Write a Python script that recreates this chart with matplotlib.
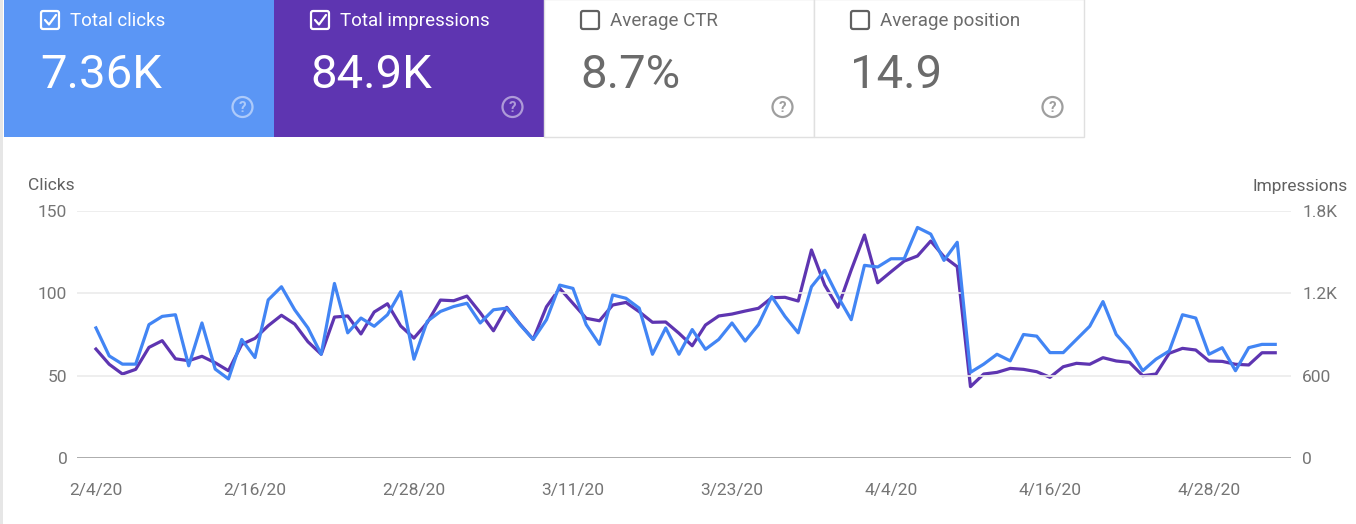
import pandas as pd
import numpy as np
import matplotlib
matplotlib.use("Agg")
import matplotlib.pyplot as plt
import matplotlib.dates as mdates
from matplotlib.patches import Rectangle, FancyBboxPatch, Circle

plt.rcParams['font.family'] = ['Roboto', 'DejaVu Sans']

# daily values, 2/4/20 .. 5/3/20
dates = pd.date_range("2020-02-04", periods=90, freq="D")
clicks = [79, 62, 57, 57, 81, 86, 87, 56, 82, 54,
          48, 72, 61, 96, 104, 90, 79, 63, 106, 76,
          85, 80, 87, 101, 60, 83, 89, 92, 94, 82,
          90, 91, 81, 72, 84, 105, 103, 81, 69, 99,
          97, 91, 63, 79, 63, 78, 66, 72, 82, 71,
          81, 98, 86, 76, 104, 114, 98, 84, 117, 116,
          121, 121, 140, 136, 120, 131, 52, 57, 63, 59,
          75, 74, 64, 64, 72, 80, 95, 75, 66, 53,
          60, 65, 87, 85, 63, 67, 53, 67, 69, 69]
impressions = [794, 683, 612, 646, 806, 855, 723, 709, 741, 694,
               636, 828, 872, 964, 1040, 976, 847, 756, 1027, 1035,
               904, 1064, 1124, 962, 874, 986, 1151, 1146, 1180, 1059,
               927, 1098, 976, 865, 1102, 1236, 1127, 1018, 1000, 1115,
               1134, 1066, 989, 991, 909, 818, 969, 1035, 1049, 1071,
               1091, 1168, 1171, 1144, 1516, 1260, 1098, 1370, 1625, 1277,
               1357, 1435, 1472, 1581, 1467, 1394, 520, 612, 624, 653,
               646, 629, 588, 665, 690, 683, 731, 707, 697, 600,
               612, 763, 799, 787, 707, 704, 683, 678, 767, 767]

card_titles = ["Total clicks", "Total impressions", "Average CTR", "Average position"]
card_values = ["7.36K", "84.9K", "8.7%", "14.9"]
card_checked = [True, True, False, False]

clicks_ticks = [0, 50, 100, 150]
impr_ticks = [0, 600, 1200, 1800]
impr_labels = ["0", "600", "1.2K", "1.8K"]

BLUE_CARD = "#5b96f5"
PURPLE = "#5e35b1"
BLUE_LINE = "#4285f4"
GREY_TXT = "#6b6b6b"
TICK_TXT = "#757575"

W, H = 1356, 524
fig = plt.figure(figsize=(W / 100, H / 100), dpi=100)
fig.patch.set_facecolor("white")

# background layer in pixel coords for the cards
bg = fig.add_axes([0, 0, 1, 1])
bg.set_xlim(0, W)
bg.set_ylim(H, 0)
bg.axis("off")
bg.add_patch(Rectangle((0, 0), 3, H, color="#e6e6e6", lw=0))

card_w = 270
card_fill = [BLUE_CARD, PURPLE, "white", "white"]
for i in range(4):
    x0 = 4 + i * card_w
    fill = card_fill[i]
    colored = card_checked[i]
    if colored:
        bg.add_patch(Rectangle((x0, 0), card_w, 137, facecolor=fill, lw=0))
    else:
        bg.add_patch(Rectangle((x0, -1), card_w, 138, facecolor="white",
                               edgecolor="#e0e0e0", lw=1))
    fg = "white" if colored else GREY_TXT
    # checkbox
    cb_col = "white" if colored else "#616161"
    bg.add_patch(FancyBboxPatch((x0 + 37, 11), 18, 18,
                                boxstyle="round,pad=0,rounding_size=2",
                                facecolor="none", edgecolor=cb_col, lw=1.6))
    if colored:
        bg.plot([x0 + 41, x0 + 45, x0 + 52], [20, 24.5, 15], color="white",
                lw=1.6, solid_capstyle="round")
    bg.text(x0 + 66, 21.5, card_titles[i], color=fg, fontsize=13.5,
            va="center", ha="left")
    bg.text(x0 + 36, 75.5, card_values[i], color=fg, fontsize=34,
            va="center", ha="left")
    # help icon
    q_col = "white" if colored else "#9e9e9e"
    q_alpha = 0.5 if colored else 1.0
    bg.add_patch(Circle((x0 + 238.5, 107), 10, facecolor="none",
                        edgecolor=q_col, lw=1.6, alpha=q_alpha))
    bg.text(x0 + 238.5, 107.5, "?", color=q_col, alpha=q_alpha, fontsize=11,
            ha="center", va="center", fontweight="bold")

# chart
ax = fig.add_axes([77 / W, 66 / H, 1214 / W, 247 / H])
ax.patch.set_alpha(0)
ax2 = ax.twinx()

ax2.plot(dates, impressions, color=PURPLE, lw=2.3, zorder=2)
ax.plot(dates, clicks, color=BLUE_LINE, lw=2.3, zorder=3)
ax.set_zorder(ax2.get_zorder() + 1)

ax.set_ylim(0, 150)
ax2.set_ylim(0, 1800)
ax.set_yticks(clicks_ticks)
ax2.set_yticks(impr_ticks)
ax2.set_yticklabels(impr_labels)

day = pd.Timedelta(days=1)
ax.set_xlim(dates[0] - 1.43 * day, dates[0] + 90.19 * day)
ax.set_xticks(dates[::12])
ax.set_xticklabels([f"{d.month}/{d.day}/{d.year % 100}" for d in dates[::12]])

for a in (ax, ax2):
    for s in a.spines.values():
        s.set_visible(False)
    a.tick_params(length=0, colors=TICK_TXT, labelsize=12.5)
ax.tick_params(axis="y", pad=7)
ax2.tick_params(axis="y", pad=8)
ax.tick_params(axis="x", pad=18)

for v in clicks_ticks[1:]:
    ax.axhline(v, color="#ebebeb", lw=1.2, zorder=0)
ax.axhline(0, color="#9e9e9e", lw=1.2, zorder=1)

fig.text(28 / W, 1 - 185 / H, "Clicks", color="#616161", fontsize=12.5,
         ha="left", va="center")
fig.text(1348 / W, 1 - 186 / H, "Impressions", color="#616161", fontsize=12.5,
         ha="right", va="center")

fig.savefig("out.png", dpi=100)
